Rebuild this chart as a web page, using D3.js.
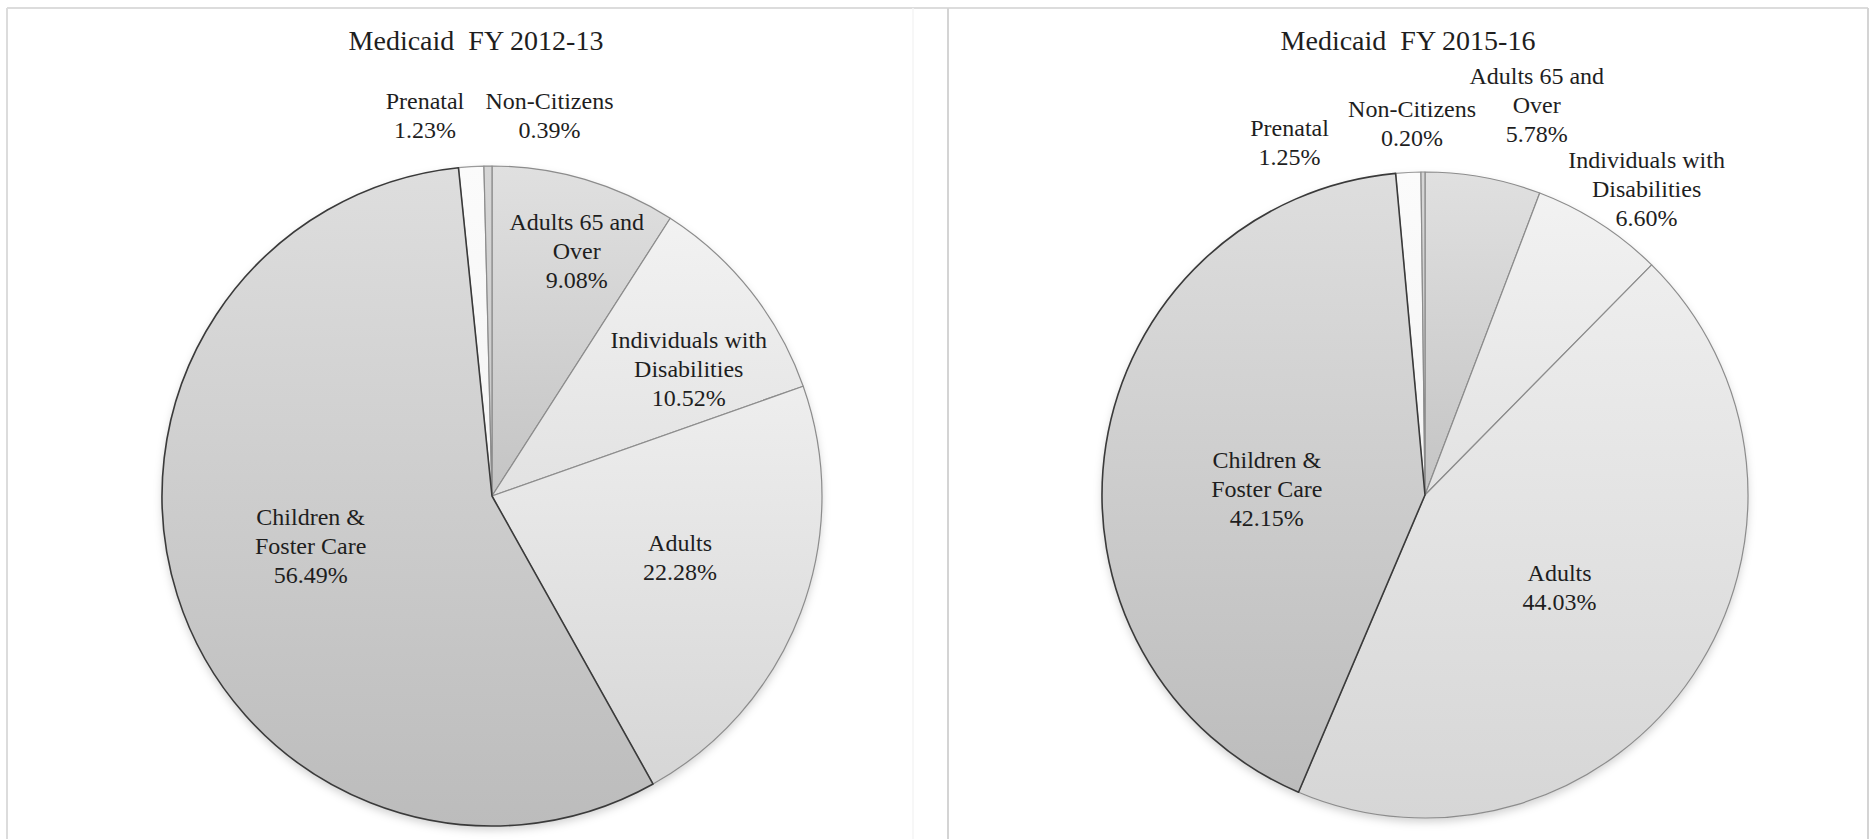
<!DOCTYPE html>
<html><head><meta charset="utf-8">
<script src="https://cdn.jsdelivr.net/npm/d3@7"></script>
<style>
html,body{margin:0;padding:0;background:#fff;}
svg{display:block;}
text{font-family:"Liberation Serif","Times New Roman",Tinos,serif;fill:#1e1e1e;}
</style></head>
<body>
<svg id="chart" width="1873" height="839"></svg>
<script>
// ---- data ----
const categories = ["Adults 65 and Over", "Individuals with Disabilities", "Adults", "Children & Foster Care", "Prenatal", "Non-Citizens"];
const labelLines = [["Adults 65 and", "Over"], ["Individuals with", "Disabilities"], ["Adults"], ["Children &", "Foster Care"], ["Prenatal"], ["Non-Citizens"]];
const titles = ["Medicaid  FY 2012-13", "Medicaid  FY 2015-16"];
const values2012 = [9.08, 10.52, 22.28, 56.49, 1.23, 0.39];
const values2015 = [5.78, 6.60, 44.03, 42.15, 1.25, 0.20];

// ---- layout / style (not data) ----
const W = 1873, H = 839;
const FONT = '"Liberation Serif","Times New Roman",Tinos,serif';
const panels = [
  {cx: 492, cy: 496, r: 330, titleX: 476, values: values2012,
   // label anchor: polar angle (deg, clockwise from top) and radius factor
   labelPos: [[19.1, 0.785], [57.1, 0.71], [108.2, 0.60], [254.6, 0.57], [350, 1.17], [8.6, 1.165]]},
  {cx: 1425, cy: 495, r: 323, titleX: 1408, values: values2015,
   labelPos: [[16, 1.255], [35.9, 1.17], [124.4, 0.505], [272, 0.49], [339, 1.17], [358, 1.15]]}
];
const fills = [
  ["#e0e0e0", "#c4c4c4"],
  ["#f2f2f2", "#e2e2e2"],
  ["#eeeeee", "#d6d6d6"],
  ["#dedede", "#bcbcbc"],
  ["#fbfbfb", "#f4f4f4"],
  ["#d6d6d6", "#c8c8c8"]
];
const strokes = ["#8c8c8c", "#8c8c8c", "#8c8c8c", "#3a3a3a", "#9a9a9a", "#8c8c8c"];
const drawOrder = [0, 1, 2, 4, 5, 3];

const svg = d3.select("#chart");
const defs = svg.append("defs");
fills.forEach((f, i) => {
  const g = defs.append("linearGradient").attr("id", "grad" + i)
    .attr("x1", 0).attr("y1", 0).attr("x2", 0).attr("y2", 1);
  g.append("stop").attr("offset", "0%").attr("stop-color", f[0]);
  g.append("stop").attr("offset", "100%").attr("stop-color", f[1]);
});
const shadow = defs.append("filter").attr("id", "shadow")
  .attr("x", "-10%").attr("y", "-10%").attr("width", "120%").attr("height", "125%");
shadow.append("feDropShadow").attr("dx", 0).attr("dy", 4).attr("stdDeviation", 4)
  .attr("flood-color", "#000").attr("flood-opacity", 0.18);

// panel frames
const frame = svg.append("g").attr("fill", "none");
frame.append("line").attr("x1", 7).attr("x2", 1868).attr("y1", 8).attr("y2", 8).attr("stroke", "#dcdcdc").attr("stroke-width", 2);
frame.append("line").attr("x1", 7).attr("x2", 7).attr("y1", 8).attr("y2", H).attr("stroke", "#dcdcdc").attr("stroke-width", 2);
frame.append("line").attr("x1", 913).attr("x2", 913).attr("y1", 8).attr("y2", H).attr("stroke", "#f4f4f4").attr("stroke-width", 1.5);
frame.append("line").attr("x1", 948).attr("x2", 948).attr("y1", 8).attr("y2", H).attr("stroke", "#d4d4d4").attr("stroke-width", 2);
frame.append("line").attr("x1", 1868).attr("x2", 1868).attr("y1", 8).attr("y2", H).attr("stroke", "#d4d4d4").attr("stroke-width", 2);

const pie = d3.pie().sort(null).value(d => d)
  .startAngle(0).endAngle(2 * Math.PI);
const fmt = d3.format(".2f");
const lineH = 29;

panels.forEach((p, pi) => {
  const g = svg.append("g").attr("transform", `translate(${p.cx},${p.cy})`);
  const arcs = pie(p.values);
  const arc = d3.arc().innerRadius(0).outerRadius(p.r);

  // shadow base
  g.append("circle").attr("r", p.r).attr("fill", "#ccc").attr("filter", "url(#shadow)");

  g.selectAll("path.slice").data(drawOrder.map(i => arcs[i])).join("path")
    .attr("class", "slice")
    .attr("d", arc)
    .attr("fill", d => `url(#grad${d.index})`)
    .attr("stroke", d => strokes[d.index])
    .attr("stroke-width", d => d.index === 3 ? 1.6 : 1.2)
    .attr("stroke-linejoin", "round");

  // title
  svg.append("text").attr("x", p.titleX).attr("y", 50)
    .attr("text-anchor", "middle").attr("font-size", 28)
    .style("font-family", FONT)
    .style("white-space", "pre").attr("xml:space", "preserve")
    .text(titles[pi]);

  // labels
  arcs.forEach((a, i) => {
    const lp = p.labelPos[i];
    const ang = lp[0] * Math.PI / 180;
    const rr = lp[1] * p.r;
    const x = Math.sin(ang) * rr, y = -Math.cos(ang) * rr;
    const lines = labelLines[i].concat([fmt(p.values[i]) + "%"]);
    const t = g.append("text").attr("text-anchor", "middle").attr("font-size", 24)
      .style("font-family", FONT)
      .attr("transform", `translate(${x},${y})`);
    const y0 = -((lines.length - 1) * lineH) / 2 + 8;
    lines.forEach((ln, k) => {
      t.append("tspan").attr("x", 0).attr("y", y0 + k * lineH).text(ln);
    });
  });
});
</script>
</body></html>
